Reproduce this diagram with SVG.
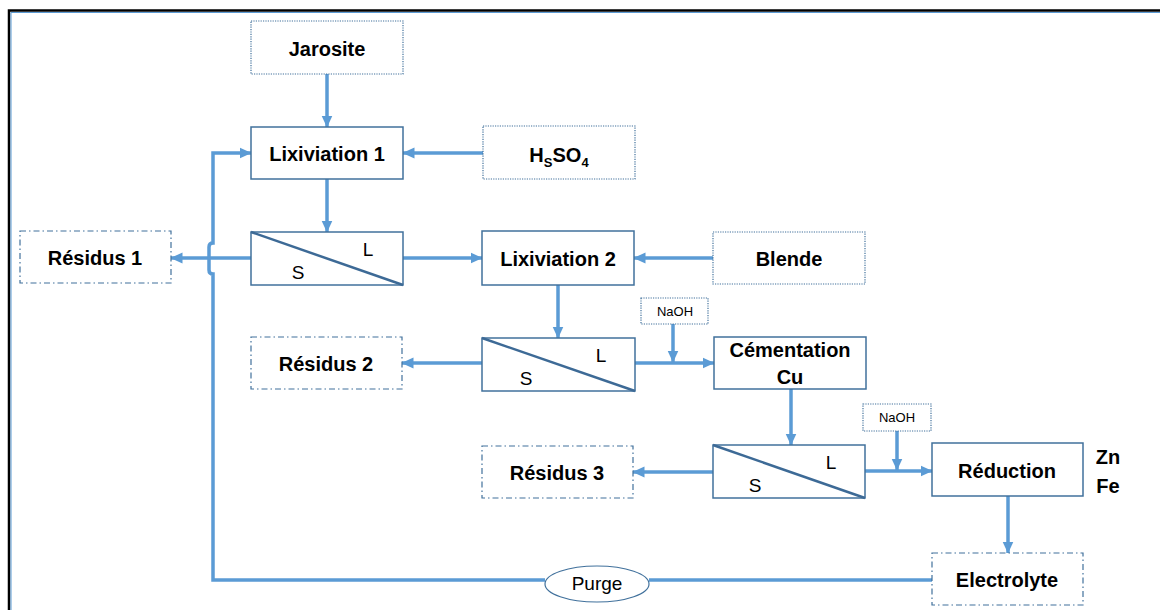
<svg xmlns="http://www.w3.org/2000/svg" width="1160" height="610" viewBox="0 0 1160 610">
<defs>
<marker id="ah" markerUnits="userSpaceOnUse" markerWidth="12" markerHeight="12" viewBox="0 0 12 12" refX="11.5" refY="6" orient="auto">
<path d="M0,0.5 L12,6 L0,11.5 z" fill="#5B9BD5"/>
</marker>
<style>
.box{fill:#fff;stroke:#41719C;stroke-width:1.5}
.dot{fill:#fff;stroke:#41719C;stroke-width:1.2;stroke-dasharray:1.2 1.2}
.dd{fill:#fff;stroke:#41719C;stroke-width:1.2;stroke-dasharray:6 3 1.5 3}
.diag{stroke:#3D6A96;stroke-width:2.5}
.c{fill:none;stroke:#5B9BD5;stroke-width:3.5}
.ca{fill:none;stroke:#5B9BD5;stroke-width:3.5;marker-end:url(#ah)}
.t{font-family:"Liberation Sans",Arial,sans-serif;font-weight:bold;font-size:20px;fill:#000;text-anchor:middle}
.r{font-family:"Liberation Sans",Arial,sans-serif;font-size:19px;fill:#000;text-anchor:middle}
.s{font-family:"Liberation Sans",Arial,sans-serif;font-size:13px;fill:#000;text-anchor:middle}
</style>
</defs>
<rect width="1160" height="610" fill="#fff"/>
<g id="frame">
<path d="M9,610 V10.5 H1160" fill="none" stroke="#000" stroke-width="2.5"/>
<path d="M11,610 V12.5 H1160" fill="none" stroke="#5B9BD5" stroke-width="1"/>
</g>
<g id="connectors">
<path class="ca" d="M327,74 V127"/>
<path class="ca" d="M483,153 H403"/>
<path class="ca" d="M327,179 V232"/>
<path class="ca" d="M251,258 H171"/>
<path class="ca" d="M403,258 H482"/>
<path class="ca" d="M713,258 H634"/>
<path class="ca" d="M558,285 V338"/>
<path class="ca" d="M482,363 H402"/>
<path class="ca" d="M635,363 H714"/>
<path class="ca" d="M673,324 V362"/>
<path class="ca" d="M791,389 V445"/>
<path class="ca" d="M713,472 H633"/>
<path class="ca" d="M865,471 H932"/>
<path class="ca" d="M897,431 V470"/>
<path class="ca" d="M1008,496 V553"/>
<path class="c" d="M932,580 H649"/>
<path class="ca" d="M545,580 H213 V274 Q209,274 209,270 V247 Q209,243 213,243 V153 H251"/>
</g>
<g id="jarosite"><rect class="dot" x="251" y="21" width="152" height="53"/><text class="t" x="327" y="56">Jarosite</text></g>
<g id="lixiviation1"><rect class="box" x="251" y="127" width="152" height="52"/><text class="t" x="327" y="161">Lixiviation 1</text></g>
<g id="h2so4"><rect class="dot" x="483" y="126" width="152" height="53"/><text class="t" x="559" y="162">H<tspan font-size="13" dy="5">S</tspan><tspan dy="-5">SO</tspan><tspan font-size="13" dy="5">4</tspan></text></g>
<g id="sep1"><rect class="box" x="251" y="232" width="152" height="53"/><line class="diag" x1="251" y1="232" x2="403" y2="285"/><text class="r" x="368" y="256">L</text><text class="r" x="298" y="279">S</text></g>
<g id="residus1"><rect class="dd" x="20" y="231" width="151" height="52"/><text class="t" x="95" y="265">Résidus 1</text></g>
<g id="lixiviation2"><rect class="box" x="482" y="231" width="152" height="54"/><text class="t" x="558" y="266">Lixiviation 2</text></g>
<g id="blende"><rect class="dot" x="713" y="232" width="152" height="52"/><text class="t" x="789" y="266">Blende</text></g>
<g id="sep2"><rect class="box" x="482" y="338" width="153" height="53"/><line class="diag" x1="482" y1="338" x2="635" y2="391"/><text class="r" x="601" y="362">L</text><text class="r" x="526" y="385">S</text></g>
<g id="residus2"><rect class="dd" x="251" y="337" width="151" height="52"/><text class="t" x="326" y="371">Résidus 2</text></g>
<g id="naoh1"><rect class="dot" x="641" y="298" width="67" height="26"/><text class="s" x="675" y="316">NaOH</text></g>
<g id="cementation"><rect class="box" x="714" y="337" width="152" height="52"/><text class="t" x="790" y="357">Cémentation</text><text class="t" x="790" y="384">Cu</text></g>
<g id="sep3"><rect class="box" x="713" y="445" width="152" height="53"/><line class="diag" x1="713" y1="445" x2="865" y2="498"/><text class="r" x="831" y="469">L</text><text class="r" x="755" y="492">S</text></g>
<g id="residus3"><rect class="dd" x="482" y="446" width="151" height="52"/><text class="t" x="557" y="480">Résidus 3</text></g>
<g id="naoh2"><rect class="dot" x="863" y="404" width="68" height="27"/><text class="s" x="897" y="422">NaOH</text></g>
<g id="reduction"><rect class="box" x="932" y="443" width="151" height="53"/><text class="t" x="1007" y="478">Réduction</text></g>
<g id="znfe"><text class="t" x="1108" y="464">Zn</text><text class="t" x="1108" y="493">Fe</text></g>
<g id="electrolyte"><rect class="dd" x="932" y="553" width="151" height="52"/><text class="t" x="1007" y="587">Electrolyte</text></g>
<g id="purge"><ellipse cx="597" cy="584" rx="52" ry="18" fill="#fff" stroke="#41719C" stroke-width="1.2"/><text class="r" x="597" y="590" font-size="18">Purge</text></g>
</svg>
